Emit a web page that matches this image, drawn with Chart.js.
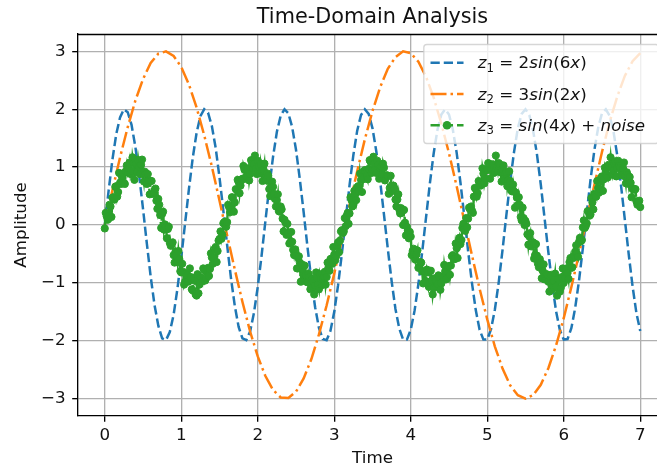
<!DOCTYPE html>
<html><head><meta charset="utf-8">
<script src="https://cdn.jsdelivr.net/npm/chart.js@4/dist/chart.umd.min.js"></script>
<style>html,body{margin:0;padding:0;background:#fff;overflow:hidden;width:657px;height:470px}canvas{display:block}</style>
</head><body>
<canvas id="c" width="667" height="470"></canvas>
<script>
const chartTitle = 'Time-Domain Analysis';
const xAxisLabel = 'Time';
const yAxisLabel = 'Amplitude';
const xTicks = [0, 1, 2, 3, 4, 5, 6, 7];
const xTickLabels = ['0', '1', '2', '3', '4', '5', '6', '7'];
const yTicks = [-3, -2, -1, 0, 1, 2, 3];
const yTickLabels = ['\u22123', '\u22122', '\u22121', '0', '1', '2', '3'];
const timeStart = 0, timeEnd = 7;
const seriesNames = ['z\u2081 = 2sin(6x)', 'z\u2082 = 3sin(2x)', 'z\u2083 = sin(4x) + noise'];
const legendParts = [
  [{t:'z',i:1},{t:'1',sub:1},{t:' = 2'},{t:'sin',i:1},{t:'(6'},{t:'x',i:1},{t:')'}],
  [{t:'z',i:1},{t:'2',sub:1},{t:' = 3'},{t:'sin',i:1},{t:'(2'},{t:'x',i:1},{t:')'}],
  [{t:'z',i:1},{t:'3',sub:1},{t:' = '},{t:'sin',i:1},{t:'(4'},{t:'x',i:1},{t:')'},{t:' + '},{t:'noise',i:1}]
];

// z1 = 2sin(6x), sampled every 0.05 from 0 to 7
const z1Values = [
0,0.59,1.13,1.57,1.86,2.00,1.95,1.73,1.35,0.85,
0.28,-0.32,-0.89,-1.38,-1.74,-1.96,-1.99,-1.85,-1.55,-1.10,
-0.56,0.03,0.62,1.16,1.59,1.88,2.00,1.94,1.71,1.33,
0.82,0.25,-0.35,-0.92,-1.40,-1.76,-1.96,-1.99,-1.84,-1.52,
-1.07,-0.53,0.07,0.65,1.18,1.61,1.89,2.00,1.93,1.69,
1.30,0.79,0.22,-0.38,-0.94,-1.42,-1.78,-1.97,-1.99,-1.83,
-1.50,-1.04,-0.49,0.10,0.69,1.21,1.63,1.90,2.00,1.92,
1.67,1.27,0.76,0.18,-0.41,-0.97,-1.45,-1.79,-1.98,-1.98,
-1.81,-1.48,-1.02,-0.46,0.13,0.72,1.24,1.65,1.91,2.00,
1.91,1.65,1.25,0.73,0.15,-0.45,-1.00,-1.47,-1.81,-1.98,
-1.98,-1.80,-1.46,-0.99,-0.43,0.17,0.75,1.26,1.67,1.92,
2.00,1.90,1.63,1.22,0.70,0.11,-0.48,-1.03,-1.49,-1.82,
-1.98,-1.97,-1.78,-1.43,-0.96,-0.40,0.20,0.78,1.29,1.68,
1.93,2.00,1.89,1.62,1.20,0.67,0.08,-0.51,-1.06,-1.52,
-1.83
];

// z2 = 3sin(2x), sampled every 0.1 from 0 to 7
const z2Values = [
0,0.60,1.17,1.69,2.15,2.52,2.80,2.96,3.00,2.92,
2.73,2.43,2.03,1.55,1.01,0.42,-0.18,-0.77,-1.33,-1.84,
-2.27,-2.61,-2.85,-2.98,-2.99,-2.88,-2.65,-2.32,-1.89,-1.39,
-0.84,-0.25,0.35,0.93,1.48,1.97,2.38,2.70,2.90,3.00,
2.97,2.82,2.56,2.20,1.75,1.24,0.67,0.07,-0.52,-1.10,
-1.63,-2.10,-2.48,-2.77,-2.94,-3.00,-2.94,-2.76,-2.47,-2.08,
-1.61,-1.07,-0.50,0.10,0.69,1.26,1.78,2.22,2.58,2.83,
2.97
];

// z3 = sin(4x) + noise, samples at x = 0, 0.025, 0.05, ... 7
const z3ValuesOnGrid = [
-0.06,0.15,0.11,0.32,0.47,0.44,0.67,0.57,0.73,0.84,
0.73,0.93,0.91,1.08,0.94,1.07,1.13,0.91,1.00,1.04,
0.88,0.92,0.71,0.77,0.76,0.54,0.56,0.42,0.45,0.17,
0.19,-0.08,-0.03,-0.07,-0.31,-0.33,-0.52,-0.46,-0.64,-0.59,
-0.82,-0.81,-0.98,-0.87,-0.97,-0.90,-1.13,-0.96,-1.22,-1.18,
-0.90,-0.97,-0.78,-0.92,-0.74,-0.76,-0.56,-0.57,-0.38,-0.45,
-0.24,-0.24,0.03,
0.06,0.05,0.31,0.29,0.47,0.39,0.61,0.74,0.68,0.80,
0.96,0.84,0.96,0.88,1.06,1.05,0.97,1.11,0.89,0.94,
0.96,0.82,0.89,0.62,0.69,0.66,0.45,0.43,0.24,0.32,
0.11,0.09,-0.17,-0.14,-0.30,-0.29,-0.52,-0.53,-0.75,-0.65,
-0.68,-0.87,-0.86,-0.99,-0.90,-1.08,-0.97,-1.05,-0.91,-1.11,
-0.91,-0.94,-0.81,-0.90,-0.75,-0.59,-0.67,-0.51,-0.54,-0.30,
-0.27,-0.09,-0.11,
-0.02,0.21,0.20,0.43,0.35,0.53,0.65,0.58,0.78,0.79,
0.95,0.85,0.97,1.09,0.95,1.07,0.90,1.04,0.98,0.87,
0.99,0.82,0.85,0.64,0.67,0.68,0.44,0.44,0.28,0.29,
0.00,0.04,-0.03,-0.23,-0.20,-0.45,-0.47,-0.51,-0.74,-0.64,
-0.80,-0.80,-0.97,-0.82,-1.01,-0.96,-1.09,-0.94,-1.02,-0.90,
-1.01,-0.90,-0.80,-0.92,-0.71,-0.70,-0.52,-0.59,-0.40,-0.29,
-0.33,-0.05,-0.08,
0.12,0.11,0.27,0.25,0.49,0.62,0.55,0.71,0.73,0.89,
0.80,0.95,1.06,0.95,1.05,0.92,1.01,1.07,0.91,0.96,
0.79,0.91,0.77,0.76,0.58,0.58,0.56,0.34,0.35,0.08,
0.12,0.07,-0.16,-0.20,-0.37,-0.30,-0.52,-0.53,-0.73,-0.66,
-0.79,-0.94,-0.85,-0.98,-0.89,-1.11,-0.97,-1.06,-0.92,-1.15,
-0.90,-1.00,-0.80,-0.83,-0.64,-0.74,-0.57,-0.46,-0.50,-0.30,
-0.28,-0.04,-0.05,
0.03,0.23,0.18,0.39,0.54,0.49,0.64,0.62,0.84,0.79,
0.93,0.82,1.02,0.99,0.94,1.10,0.98,1.02,0.87,0.98,
0.84,0.91,0.71,0.73,0.62,0.61,0.41,0.39,0.31
];
// z3 samples lying half-way between the grid samples above (x = 0.0125, 0.0375, ...)
const z3ValuesBetween = [
0.21,0.09,0.35,0.14,0.48,0.66,0.49,0.90,0.71,0.89,
0.71,1.03,0.97,0.88,1.17,0.78,1.06,1.12,0.88,1.13,
0.75,0.88,0.88,0.53,0.76,0.54,0.63,0.28,0.35,-0.05,
0.23,0.01,-0.23,-0.03,-0.36,-0.30,-0.65,-0.53,-0.45,-0.80,
-0.67,-1.03,-0.84,-0.98,-0.75,-1.11,-0.92,-1.20,-0.85,-1.03,
-0.92,-0.75,-0.96,-0.76,-0.88,-0.49,-0.67,-0.41,-0.64,-0.27,
-0.11,-0.17,0.05,
-0.03,0.35,0.22,0.48,0.23,0.62,0.78,0.55,0.78,1.02,
0.80,0.98,0.77,1.12,0.98,1.20,0.88,1.02,1.06,0.76,
1.06,0.77,0.85,0.50,0.75,0.54,0.32,0.53,0.23,0.27,
-0.11,0.04,0.02,-0.32,-0.12,-0.43,-0.42,-0.75,-0.54,-0.98,
-0.76,-0.70,-0.98,-0.84,-1.11,-0.93,-1.20,-0.82,-1.03,-0.85,
-1.04,-0.88,-1.03,-0.65,-0.79,-0.58,-0.38,-0.61,-0.36,-0.47,
-0.11,-0.14,0.12,
0.16,0.02,0.48,0.32,0.59,0.43,0.67,0.89,0.57,0.93,
0.90,0.79,1.12,0.90,1.18,0.96,1.11,0.80,1.01,1.06,
0.77,0.86,0.54,0.85,0.59,0.63,0.32,0.53,0.20,0.24,
0.26,-0.18,-0.10,-0.12,-0.52,-0.41,-0.60,-0.44,-0.72,-0.65,
-1.01,-0.80,-0.77,-1.07,-0.79,-1.20,-0.92,-1.06,-0.87,-1.12,
-0.89,-0.69,-0.94,-0.72,-0.86,-0.54,-0.58,-0.32,-0.57,-0.22,
-0.26,0.02,-0.10,
-0.04,0.30,0.32,0.21,0.64,0.49,0.76,0.68,0.98,0.72,
0.95,1.07,0.80,1.03,0.90,1.20,0.93,1.05,0.75,1.03,
0.88,0.67,0.93,0.60,0.70,0.30,0.47,0.48,0.14,0.30,
0.00,0.02,-0.34,-0.14,-0.35,-0.58,-0.33,-0.67,-0.59,-0.92,
-0.68,-0.89,-0.86,-1.15,-0.86,-1.07,-0.84,-1.22,-0.94,-1.08,
-0.75,-0.92,-0.75,-0.93,-0.57,-0.73,-0.53,-0.35,-0.55,-0.22,
-0.26,0.08,-0.02,
0.24,0.16,0.47,0.27,0.53,0.76,0.56,0.81,0.59,0.99,
0.86,1.04,1.17,0.87,1.06,0.84,1.11,0.99,0.86,1.08,
0.72,0.86,0.83,0.48,0.63,0.62,0.35,0.42
];

const FONT = '"DejaVu Sans", sans-serif';
const TXT = '#111';
const seriesColors = ['#1f77b4', '#ff7f0e', '#2ca02c'];
const seriesDashes = [[9.25, 4], [16, 4, 2.5, 4], [9.25, 4]];

function samples(values) {
  const n = values.length;
  return values.map((v, i) => ({x: timeStart + (timeEnd - timeStart) * i / (n - 1), y: v}));
}
// put the in-between samples back in time order with the grid samples
const z3Values = [];
z3ValuesOnGrid.forEach((v, i) => {
  z3Values.push(v);
  if (i < z3ValuesBetween.length) z3Values.push(z3ValuesBetween[i]);
});

function drawRich(ctx, x, y, parts) {
  for (const p of parts) {
    const size = p.sub ? 11.7 : 16.7;
    ctx.font = (p.i ? 'italic ' : '') + size + 'px ' + FONT;
    ctx.fillText(p.t, x, y + (p.sub ? 3.5 : 0));
    x += ctx.measureText(p.t).width;
  }
  return x;
}
function richWidth(ctx, parts) {
  let w = 0;
  for (const p of parts) {
    const size = p.sub ? 11.7 : 16.7;
    ctx.font = (p.i ? 'italic ' : '') + size + 'px ' + FONT;
    w += ctx.measureText(p.t).width;
  }
  return w;
}

const decor = {
  id: 'decor',
  afterDraw(chart) {
    const {ctx, chartArea: a} = chart;
    ctx.save();
    ctx.strokeStyle = '#000';
    ctx.lineWidth = 1.33;
    ctx.beginPath();
    ctx.moveTo(a.left, Math.round(a.top) + 0.5);
    ctx.lineTo(a.right, Math.round(a.top) + 0.5);
    ctx.stroke();
    ctx.fillStyle = TXT;
    ctx.font = '20.8px ' + FONT;
    ctx.textAlign = 'center';
    ctx.textBaseline = 'alphabetic';
    ctx.fillText(chartTitle, (a.left + a.right) / 2, 22.5);
    const pad = 6.7, handle = 33, hpad = 13.3, rowH = 23, gap = 8.3;
    let maxW = 0;
    legendParts.forEach(p => { maxW = Math.max(maxW, richWidth(ctx, p)); });
    const bw = pad + handle + hpad + maxW + pad + 8;
    const bh = pad * 2 + rowH * 3 + gap * 2;
    const bx = a.right - 8.3 - bw, by = a.top + 10.5;
    ctx.beginPath();
    ctx.roundRect(bx, by, bw, bh, 3);
    ctx.fillStyle = 'rgba(255,255,255,0.8)';
    ctx.fill();
    ctx.strokeStyle = 'rgba(204,204,204,0.8)';
    ctx.lineWidth = 1.33;
    ctx.stroke();
    ctx.textAlign = 'left';
    ctx.textBaseline = 'alphabetic';
    for (let i = 0; i < 3; i++) {
      const cy = by + pad + rowH / 2 + i * (rowH + gap);
      const hx = bx + pad;
      ctx.save();
      ctx.strokeStyle = seriesColors[i];
      ctx.lineWidth = 2.5;
      ctx.setLineDash(seriesDashes[i]);
      ctx.beginPath();
      ctx.moveTo(hx, cy);
      ctx.lineTo(hx + handle, cy);
      ctx.stroke();
      ctx.restore();
      if (i === 2) {
        ctx.beginPath();
        ctx.arc(hx + handle / 2, cy, 4.3, 0, Math.PI * 2);
        ctx.fillStyle = seriesColors[i];
        ctx.fill();
      }
      ctx.fillStyle = TXT;
      drawRich(ctx, hx + handle + hpad + 1, cy + 5.5, legendParts[i]);
    }
    ctx.restore();
  }
};

new Chart(document.getElementById('c'), {
  type: 'line',
  data: {
    datasets: [
      {label: seriesNames[0], data: samples(z1Values), borderColor: seriesColors[0], borderWidth: 2.5,
       borderDash: seriesDashes[0], pointRadius: 0, fill: false, order: 2},
      {label: seriesNames[1], data: samples(z2Values), borderColor: seriesColors[1], borderWidth: 2.5,
       borderDash: seriesDashes[1], pointRadius: 0, fill: false, order: 1},
      {label: seriesNames[2], data: samples(z3Values), borderColor: seriesColors[2], backgroundColor: seriesColors[2],
       borderWidth: 2.5, borderDash: seriesDashes[2], pointRadius: 3.6, pointBorderWidth: 1,
       pointBackgroundColor: seriesColors[2], pointBorderColor: seriesColors[2], fill: false, order: 0}
    ]
  },
  options: {
    responsive: false,
    animation: false,
    devicePixelRatio: 1,
    layout: {autoPadding: false, padding: {left: 0, top: 34, right: 0, bottom: 0}},
    plugins: {legend: {display: false}, title: {display: false}, tooltip: {enabled: false}},
    scales: {
      x: {
        type: 'linear', min: -0.35, max: 7.35,
        afterBuildTicks: s => { s.ticks = xTicks.map(v => ({value: v})); },
        afterFit: s => { s.height = 54; s.paddingLeft = 0; s.paddingRight = 0; },
        ticks: {callback: (v, i) => xTickLabels[i], font: {family: FONT, size: 16.7}, color: TXT,
                padding: 4, maxRotation: 0, autoSkip: false},
        grid: {color: '#b0b0b0', lineWidth: 1.33, tickColor: '#000', tickLength: 5.8, tickWidth: 1.33},
        border: {display: true, color: '#000', width: 1.33},
        title: {display: true, text: xAxisLabel, font: {family: FONT, size: 16.7}, color: TXT,
                padding: {top: 0, bottom: 1}}
      },
      y: {
        type: 'linear', min: -3.3, max: 3.3,
        afterBuildTicks: s => { s.ticks = yTicks.map(v => ({value: v})); },
        afterFit: s => { s.width = 78; s.paddingTop = 0; s.paddingBottom = 0; },
        ticks: {callback: (v, i) => yTickLabels[i], font: {family: FONT, size: 16.7}, color: TXT,
                padding: 6.5, autoSkip: false},
        grid: {color: '#b0b0b0', lineWidth: 1.33, tickColor: '#000', tickLength: 5.8, tickWidth: 1.33},
        border: {display: true, color: '#000', width: 1.33},
        title: {display: true, text: yAxisLabel, font: {family: FONT, size: 16.7}, color: TXT,
                padding: {top: 11.5, bottom: 0}}
      }
    }
  },
  plugins: [decor]
});
</script>
</body></html>
